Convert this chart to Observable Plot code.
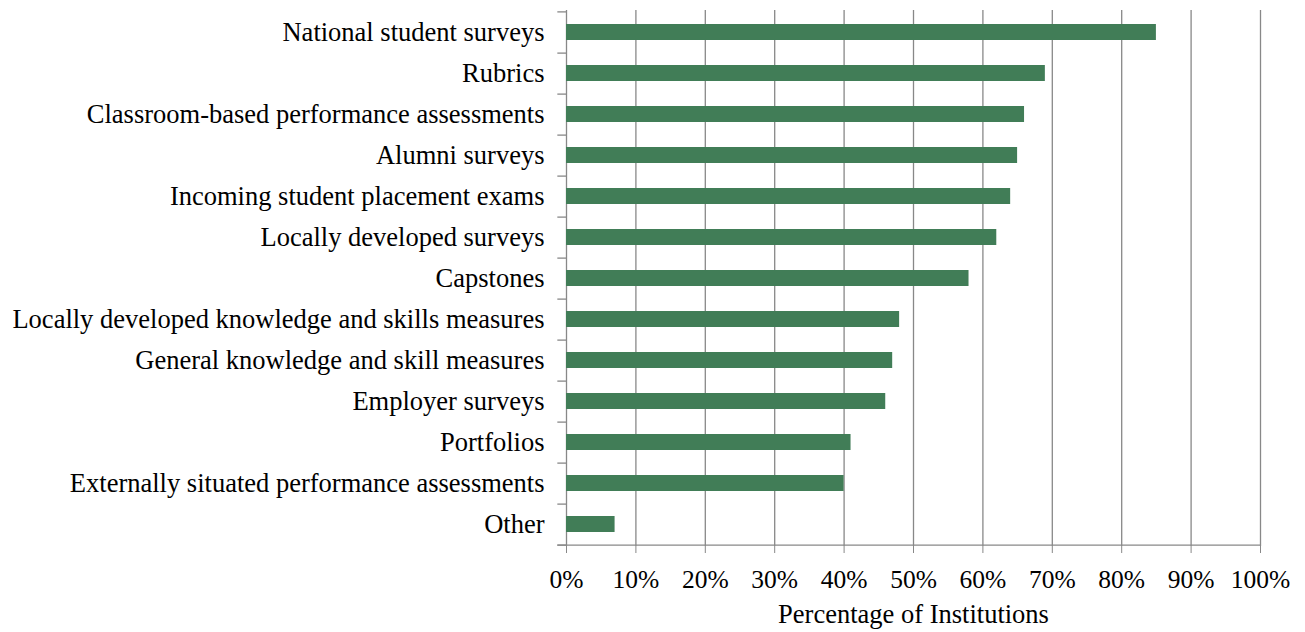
<!DOCTYPE html>
<html><head><meta charset="utf-8">
<script src="https://cdn.jsdelivr.net/npm/d3@7"></script>
<script src="https://cdn.jsdelivr.net/npm/@observablehq/plot@0.6"></script>
<style>body{margin:0;background:#fff}</style>
</head><body><div id="chart"></div>
<script>
const categories = [
  "National student surveys",
  "Rubrics",
  "Classroom-based performance assessments",
  "Alumni surveys",
  "Incoming student placement exams",
  "Locally developed surveys",
  "Capstones",
  "Locally developed knowledge and skills measures",
  "General knowledge and skill measures",
  "Employer surveys",
  "Portfolios",
  "Externally situated performance assessments",
  "Other"
];
const values = [85, 69, 66, 65, 64, 62, 58, 48, 47, 46, 41, 40, 7];
const xTicks = [0, 10, 20, 30, 40, 50, 60, 70, 80, 90, 100];
const xTitle = "Percentage of Institutions";

const W = 1305, H = 632, mt = 10, mb = 86, ml = 566, mr = 45;
const step = (H - mt - mb) / categories.length;
const data = categories.map((c, i) => ({category: c, value: values[i]}));
const grid = "#888888";

const plot = Plot.plot({
  width: W, height: H,
  marginTop: mt, marginBottom: mb, marginLeft: ml, marginRight: mr,
  style: {fontFamily: "'Liberation Serif', 'Times New Roman', serif", fontSize: "26.5px", color: "#000", background: "#fff"},
  x: {domain: [0, 100]},
  y: {domain: categories, paddingInner: 0.61, paddingOuter: 0.305},
  marks: [
    Plot.ruleX(xTicks, {stroke: grid, strokeWidth: 1.3}),
    Plot.ruleY(categories, {y: d => d, x1: -1.25, x2: 0, dy: step / 2, stroke: grid, strokeWidth: 1.3}),
    Plot.ruleY([categories[0]], {y: d => d, x1: -1.25, x2: 0, dy: -step / 2, stroke: grid, strokeWidth: 1.3}),
    Plot.ruleY([categories[categories.length - 1]], {y: d => d, x1: -1.25, x2: 100, dy: step / 2, stroke: grid, strokeWidth: 1.3}),
    Plot.barX(data, {y: "category", x: "value", fill: "#417d57"}),
    Plot.axisY({tickSize: 0, tickPadding: 22, label: null, fill: "#000", fontSize: 26.5}),
    Plot.axisX({ticks: xTicks, tickSize: 7, tickPadding: 16, tickFormat: d => d + "%", stroke: grid, fill: "#000", label: null, fontSize: 25.5}),
    Plot.text([xTitle], {frameAnchor: "bottom", dy: 76, fill: "#000", fontSize: 26.5})
  ]
});
document.getElementById("chart").appendChild(plot);
</script>
</body></html>
